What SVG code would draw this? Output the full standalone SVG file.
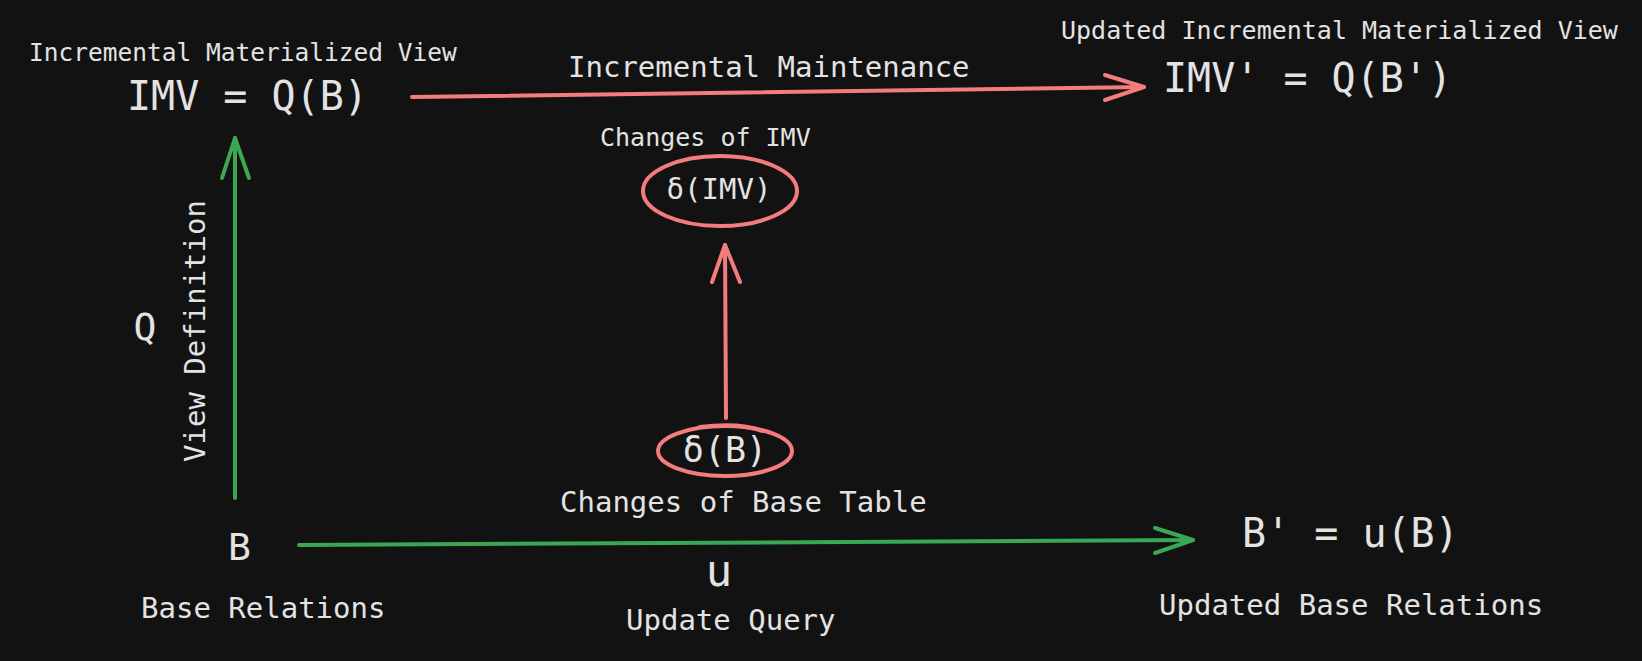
<svg xmlns="http://www.w3.org/2000/svg" width="1642" height="661" viewBox="0 0 1642 661">
  <style>
    text { font-family: "DejaVu Sans Mono", "Liberation Mono", monospace; fill: #e3e3e3; }
    .red { fill: none; stroke: #f47c7c; stroke-width: 4; stroke-linecap: round; stroke-linejoin: round; }
    .green { fill: none; stroke: #3aa852; stroke-width: 4; stroke-linecap: round; stroke-linejoin: round; }
  </style>
  <rect x="0" y="0" width="1642" height="661" fill="#121212"/>

  <g id="connectors">
    <g id="edge-maintenance">
      <path class="red" d="M412 97 L1144 87"/>
      <polyline class="red" points="1105,75 1144,87 1105,100"/>
    </g>
    <g id="edge-view-definition">
      <path class="green" d="M235 498 L235 138"/>
      <polyline class="green" points="222,178 235,138 249,178"/>
    </g>
    <g id="edge-delta">
      <path class="red" d="M726 418 L725 245"/>
      <polyline class="red" points="712,282 725,245 740,282"/>
    </g>
    <g id="edge-update">
      <path class="green" d="M299 545 L1193 540"/>
      <polyline class="green" points="1155,528 1193,540 1155,553"/>
    </g>
  </g>

  <g id="imv">
    <text x="29" y="61" font-size="24.5">Incremental Materialized View</text>
    <text x="127" y="110" font-size="40">IMV = Q(B)</text>
  </g>

  <g id="imv-updated">
    <text x="1061" y="39" font-size="25">Updated Incremental Materialized View</text>
    <text x="1163" y="92" font-size="40">IMV' = Q(B')</text>
  </g>

  <g id="label-maintenance">
    <text x="568" y="77" font-size="29">Incremental Maintenance</text>
  </g>

  <g id="delta-imv">
    <text x="600" y="146" font-size="25">Changes of IMV</text>
    <ellipse class="red" cx="720" cy="191" rx="77" ry="35"/>
    <text x="719" y="199" font-size="29" text-anchor="middle">δ(IMV)</text>
  </g>

  <g id="label-view-definition">
    <text x="145" y="340" font-size="38" text-anchor="middle">Q</text>
    <text transform="translate(205 331) rotate(-90)" x="0" y="0" font-size="29" text-anchor="middle">View Definition</text>
  </g>

  <g id="delta-b">
    <ellipse class="red" cx="725" cy="451" rx="67" ry="25"/>
    <path class="red" d="M700 427 Q740 422 762 431"/>
    <text x="725" y="462" font-size="35" text-anchor="middle">δ(B)</text>
    <text x="560" y="512" font-size="29">Changes of Base Table</text>
  </g>

  <g id="b">
    <text x="228" y="560" font-size="38">B</text>
    <text x="141" y="618" font-size="29">Base Relations</text>
  </g>

  <g id="label-update">
    <text x="719" y="586" font-size="44" text-anchor="middle">u</text>
    <text x="626" y="630" font-size="29">Update Query</text>
  </g>

  <g id="b-updated">
    <text x="1242" y="547" font-size="40">B' = u(B)</text>
    <text x="1159" y="615" font-size="29">Updated Base Relations</text>
  </g>
</svg>
